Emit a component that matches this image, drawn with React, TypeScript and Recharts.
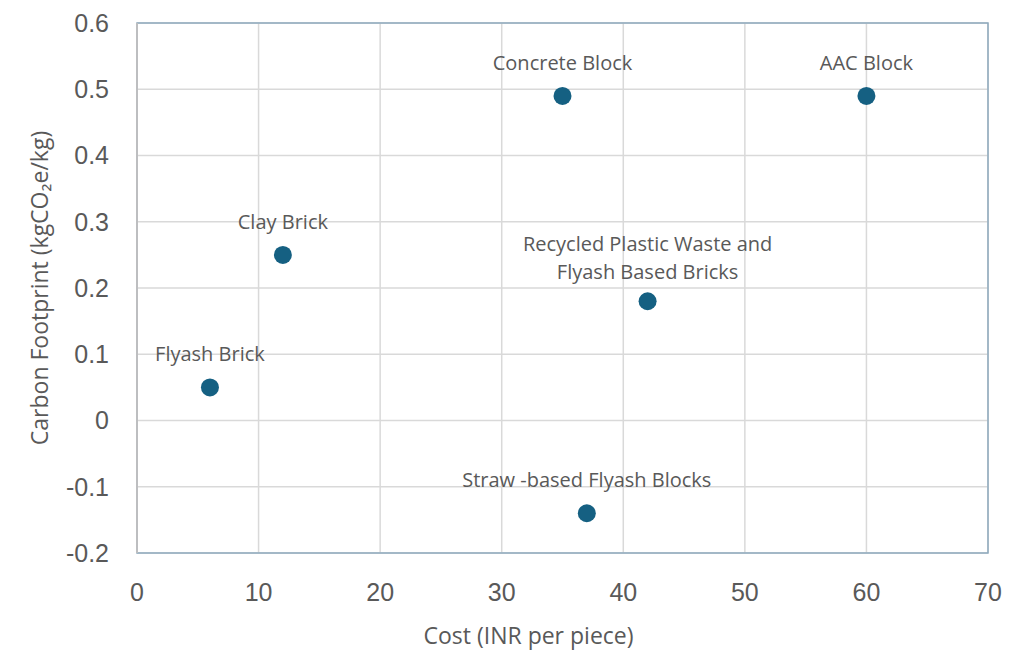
import { ScatterChart, Scatter, XAxis, YAxis, CartesianGrid, ReferenceArea, ReferenceLine, Label } from "recharts";

const materials = [
  "Flyash Brick",
  "Clay Brick",
  "Concrete Block",
  "AAC Block",
  "Recycled Plastic Waste and\nFlyash Based Bricks",
  "Straw -based Flyash Blocks",
];
const costs = [6, 12, 35, 60, 42, 37];
const footprints = [0.05, 0.25, 0.49, 0.49, 0.18, -0.14];

const xTicks = [0, 10, 20, 30, 40, 50, 60, 70];
const yTicks = [-0.2, -0.1, 0, 0.1, 0.2, 0.3, 0.4, 0.5, 0.6];

const data = materials.map((name, i) => ({ name, cost: costs[i], footprint: footprints[i] }));

const textColor = "#595959";
const labelFont = "'Open Sans', sans-serif";
const tickStyle = { fontSize: 25, fill: textColor, fontFamily: "'Liberation Sans', Arial, sans-serif" };

function Dot(props: any) {
  const { cx, cy, payload } = props;
  const lines: string[] = payload.name.split("\n");
  const lineH = 28;
  const lastOffset = lines.length > 1 ? 22 : 26;
  return (
    <g>
      <circle cx={cx} cy={cy} r={9} fill="#156082" />
      {lines.map((line, i) => (
        <text
          key={i}
          x={cx}
          y={cy - lastOffset - (lines.length - 1 - i) * lineH}
          textAnchor="middle"
          fontSize={20}
          fontFamily={labelFont}
          fill={textColor}
        >
          {line}
        </text>
      ))}
    </g>
  );
}

export default function App() {
  return (
    <div style={{ position: "absolute", left: 0, top: 0, background: "#fff" }}>
      <ScatterChart width={1024} height={650} margin={{ top: 23, right: 36, bottom: 6, left: 17 }}>
        <CartesianGrid stroke="#d9d9d9" strokeWidth={1.5} />
        <ReferenceArea x1={0} x2={70} y1={-0.2} y2={0.6} fill="none" stroke="#8eaabf" strokeWidth={1.5} />
        <ReferenceLine x={0} stroke="#bfbfbf" strokeWidth={1.5} />
        <XAxis
          type="number"
          dataKey="cost"
          domain={[0, 70]}
          ticks={xTicks}
          height={91}
          axisLine={false}
          tickLine={false}
          tickMargin={24}
          tick={tickStyle}
        >
          <Label
            value="Cost (INR per piece)"
            position="insideBottom"
            offset={0}
            dx={-34}
            style={{ fontSize: 23, fill: textColor, fontFamily: labelFont }}
          />
        </XAxis>
        <YAxis
          type="number"
          dataKey="footprint"
          domain={[-0.2, 0.6]}
          ticks={yTicks}
          width={120}
          axisLine={{ stroke: "#bfbfbf", strokeWidth: 1.5 }}
          tickLine={false}
          tickMargin={22}
          tick={tickStyle}
          tickFormatter={(v: number) => String(parseFloat(v.toFixed(1)))}
        >
          <Label
            value="Carbon Footprint (kgCO₂e/kg)"
            position="center"
            angle={-90}
            dx={-37}
            style={{ fontSize: 23, fill: textColor, fontFamily: labelFont, textAnchor: "middle" }}
          />
        </YAxis>
        <Scatter data={data} shape={Dot} isAnimationActive={false} />
      </ScatterChart>
    </div>
  );
}
